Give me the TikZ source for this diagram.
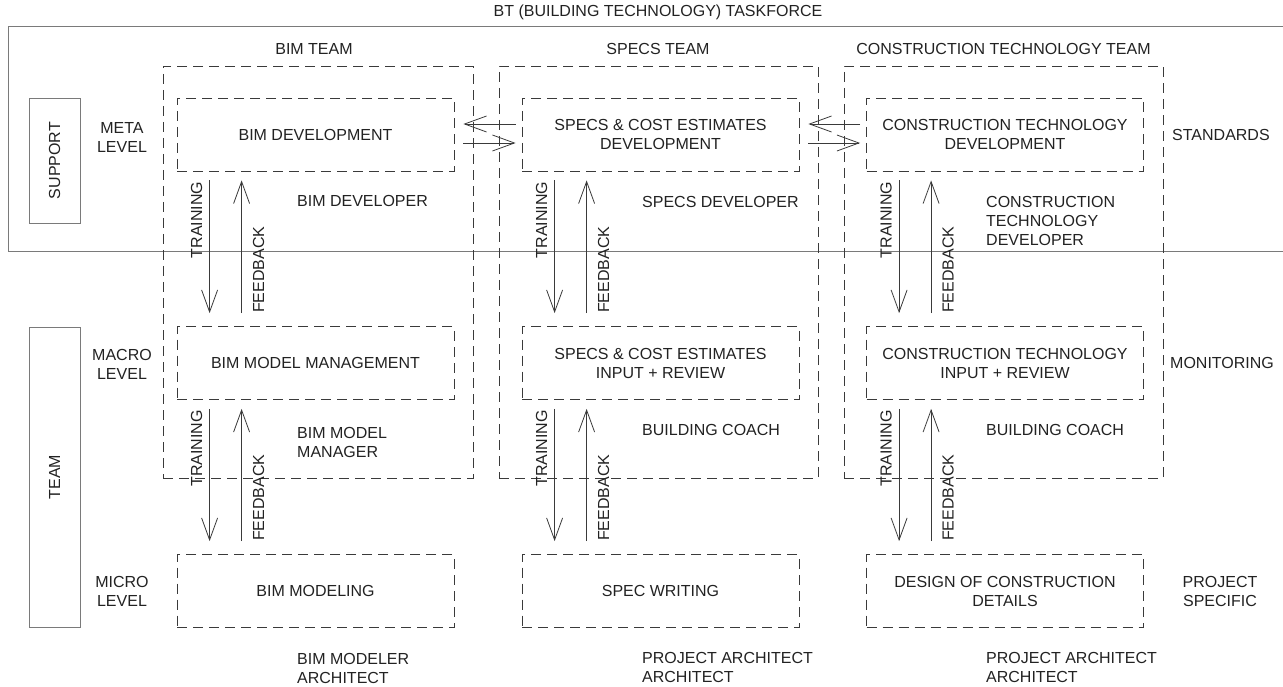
\documentclass[tikz,border=0pt]{standalone}
\usepackage{fontspec}
\setmainfont{Liberation Sans}
\usetikzlibrary{arrows.meta}
\definecolor{txt}{HTML}{222222}
\definecolor{ln}{HTML}{3A3A3A}
\definecolor{tfl}{HTML}{7A7A7A}
\begin{document}
\begin{tikzpicture}[x=1pt,y=-1pt,
  every node/.style={font=\fontsize{16}{19}\selectfont, text=txt, inner sep=0pt},
  dbox/.style={draw=ln, line width=0.8pt, dash pattern=on 10pt off 6pt, minimum width=277pt, minimum height=73pt, align=center},
  obox/.style={draw=ln, line width=0.8pt, dash pattern=on 10pt off 6pt, minimum height=412pt},
  sbox/.style={draw=tfl, line width=0.9pt, minimum width=51pt},
  tfline/.style={draw=tfl, line width=0.9pt},
  arr/.style={draw=ln, line width=0.8pt, -{Straight Barb[length=22pt, width=16pt, line width=0.8pt]}},
  lab/.style={align=left, anchor=west},
  rl/.style={rotate=90}
]
\useasboundingbox (0,0) rectangle (1283,687);
% taskforce
\node (tf) at (658,12) {BT (BUILDING TECHNOLOGY) TASKFORCE};
\coordinate (tfa) at (1283,26);
\coordinate (tfb) at (8,26);
\coordinate (tfc) at (8,251);
\coordinate (tfd) at (1283,251);
\draw[tfline] (tfa) -- (tfb) -- (tfc) -- (tfd);

% side boxes
\node[sbox, minimum height=125pt] (support) at (54.5,160.5) {};
\node[rl] at (support.center) {SUPPORT};
\node[sbox, minimum height=300pt] (team) at (54.5,477) {};
\node[rl] at (team.center) {TEAM};
\node[align=center] (meta) at (122,137) {META\\LEVEL};
\node[align=center] (macro) at (122,364) {MACRO\\LEVEL};
\node[align=center] (micro) at (122,591) {MICRO\\LEVEL};

% outer team boxes
\node[obox, minimum width=310pt] (bimteam) at (318,272) {};
\node[obox, minimum width=319pt] (specteam) at (658.5,272) {};
\node[obox, minimum width=319pt] (ctteam) at (1003.5,272) {};
\node (bimt) at (314,49) {BIM TEAM};
\node (spect) at (658,49) {SPECS TEAM};
\node (ctt) at (1003.5,49) {CONSTRUCTION TECHNOLOGY TEAM};

% inner boxes
\node[dbox] (bimdev) at (315.5,134.5) {BIM DEVELOPMENT};
\node[dbox] (bimmm) at (315.5,363) {BIM MODEL MANAGEMENT};
\node[dbox] (bimmod) at (315.5,591) {BIM MODELING};
\node[dbox] (specdev) at (660.5,134.5) {SPECS \& COST ESTIMATES\\DEVELOPMENT};
\node[dbox] (specin) at (660.5,363) {SPECS \& COST ESTIMATES\\INPUT + REVIEW};
\node[dbox] (specwr) at (660.5,591) {SPEC WRITING};
\node[dbox] (ctdev) at (1005,134.5) {CONSTRUCTION TECHNOLOGY\\DEVELOPMENT};
\node[dbox] (ctin) at (1005,363) {CONSTRUCTION TECHNOLOGY\\INPUT + REVIEW};
\node[dbox] (ctdes) at (1005,591) {DESIGN OF CONSTRUCTION\\DETAILS};

% right labels
\node[lab] (std) at (1172,135) {STANDARDS};
\node[lab] (mon) at (1170,363) {MONITORING};
\node[align=center] (ps) at (1220,591) {PROJECT\\SPECIFIC};

% role labels
\node[lab] at (297,201) {BIM DEVELOPER};
\node[lab] at (297,442) {BIM MODEL\\MANAGER};
\node[lab] at (297,668) {BIM MODELER\\ARCHITECT};
\node[lab] at (642,202) {SPECS DEVELOPER};
\node[lab] at (642,430) {BUILDING COACH};
\node[lab] at (642,667) {PROJECT ARCHITECT\\ARCHITECT};
\node[lab] at (986,221) {CONSTRUCTION\\TECHNOLOGY\\DEVELOPER};
\node[lab] at (986,430) {BUILDING COACH};
\node[lab] at (986,667) {PROJECT ARCHITECT\\ARCHITECT};

% horizontal arrows
\draw[arr, shorten <=6pt, shorten >=9pt] ([yshift=10.5pt]specdev.west) -- ([yshift=10.5pt]bimdev.east);
\draw[arr, shorten <=9pt, shorten >=6pt] ([yshift=-8.5pt]bimdev.east) -- ([yshift=-8.5pt]specdev.west);
\draw[arr, shorten <=6pt, shorten >=9pt] ([yshift=10.5pt]ctdev.west) -- ([yshift=10.5pt]specdev.east);
\draw[arr, shorten <=9pt, shorten >=6pt] ([yshift=-8.5pt]specdev.east) -- ([yshift=-8.5pt]ctdev.west);

% vertical arrows and labels
\foreach \up/\lo in {bimdev/bimmm, bimmm/bimmod, specdev/specin, specin/specwr, ctdev/ctin, ctin/ctdes}{
  \draw[arr, shorten <=9pt, shorten >=13pt] ([xshift=33pt]\up.south west) -- ([xshift=33pt]\lo.north west);
  \draw[arr, shorten <=13pt, shorten >=9pt] ([xshift=65pt]\lo.north west) -- ([xshift=65pt]\up.south west);
  \node[rl, anchor=east] at ([xshift=20pt, yshift=-10pt]\up.south west) {TRAINING};
  \node[rl, anchor=west] at ([xshift=82pt, yshift=13pt]\lo.north west) {FEEDBACK};
}
\end{tikzpicture}
\end{document}
